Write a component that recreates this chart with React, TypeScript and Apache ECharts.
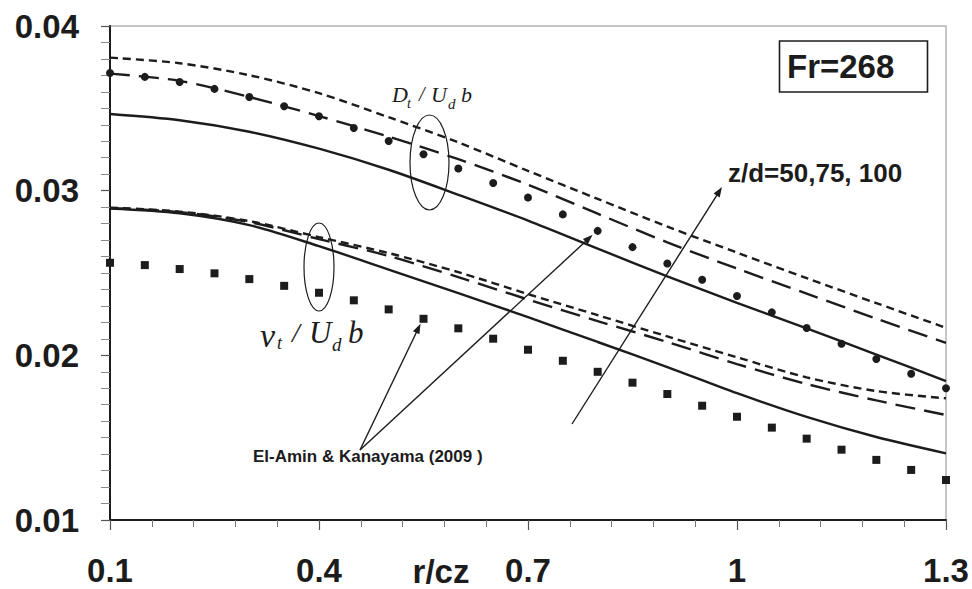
import React, { useEffect, useRef } from "react";
import * as echarts from "echarts";

// radial positions of the model curves (r/cz)
const xModel = [0.1, 0.2, 0.3, 0.4, 0.5, 0.6, 0.7, 0.8, 0.9, 1.0, 1.1, 1.2, 1.3];

// D_t / U_d b for z/d = 50, 75, 100
const dtZ50 = [0.03808, 0.03774, 0.03701, 0.03592, 0.03446, 0.03293, 0.0312, 0.0295, 0.02782, 0.02624, 0.02469, 0.02317, 0.02167];
const dtZ75 = [0.03711, 0.03667, 0.03569, 0.03453, 0.03328, 0.03191, 0.03036, 0.0286, 0.02686, 0.02527, 0.02375, 0.02223, 0.02076];
const dtZ100 = [0.03466, 0.03428, 0.03358, 0.03255, 0.03127, 0.02975, 0.02818, 0.02648, 0.0248, 0.02318, 0.02164, 0.02005, 0.01844];

// nu_t / U_d b for z/d = 50, 75, 100
const nuZ50 = [0.02897, 0.02873, 0.02815, 0.02718, 0.02621, 0.02505, 0.02372, 0.02244, 0.02115, 0.01988, 0.01866, 0.01783, 0.01739];
const nuZ75 = [0.02894, 0.0287, 0.02809, 0.02706, 0.02603, 0.02475, 0.02339, 0.02208, 0.02081, 0.01947, 0.01826, 0.01726, 0.01638];
const nuZ100 = [0.02892, 0.02863, 0.02791, 0.02663, 0.02521, 0.02378, 0.02232, 0.02081, 0.01929, 0.0177, 0.01626, 0.01504, 0.01405];

// El-Amin & Kanayama (2009) points
const xObs = [0.1, 0.15, 0.2, 0.25, 0.3, 0.35, 0.4, 0.45, 0.5, 0.55, 0.6, 0.65, 0.7, 0.75, 0.8, 0.85, 0.9, 0.95, 1.0, 1.05, 1.1, 1.15, 1.2, 1.25, 1.3];
const dtObs = [0.03715, 0.03691, 0.0366, 0.03618, 0.03569, 0.03513, 0.03452, 0.03381, 0.03302, 0.03221, 0.03135, 0.03047, 0.02959, 0.02856, 0.02756, 0.02657, 0.02558, 0.02459, 0.0236, 0.02261, 0.02166, 0.0207, 0.01978, 0.01888, 0.018];
const nuObs = [0.02562, 0.02548, 0.02524, 0.02498, 0.02463, 0.02422, 0.0238, 0.02334, 0.02279, 0.02222, 0.02164, 0.02101, 0.02034, 0.01967, 0.019, 0.01834, 0.01765, 0.01694, 0.01627, 0.01561, 0.01494, 0.01427, 0.01365, 0.01304, 0.01243];

const SANS = '"Liberation Sans", Arial, Helvetica, sans-serif';
const SERIF = '"Liberation Serif", "Times New Roman", serif';
const INK = "#1c1c1c";

const SHORT_DASH = [8, 5];
const LONG_DASH = [20, 9];

function pairs(xs: number[], ys: number[]) {
  return xs.map((x, i) => [x, ys[i]]);
}

function curve(name: string, ys: number[], dash: any) {
  return {
    name,
    type: "line",
    data: pairs(xModel, ys),
    symbol: "none",
    smooth: 0.3,
    lineStyle: { color: INK, width: 2.4, type: dash },
    z: 2,
  };
}

function arrow(x1: number, y1: number, x2: number, y2: number) {
  const dx = x2 - x1;
  const dy = y2 - y1;
  const len = Math.hypot(dx, dy);
  const ux = dx / len;
  const uy = dy / len;
  const head = 10;
  const half = 3.6;
  const bx = x2 - ux * head;
  const by = y2 - uy * head;
  return [
    {
      type: "line",
      shape: { x1, y1, x2: bx + ux * 2, y2: by + uy * 2 },
      style: { stroke: INK, lineWidth: 1.4 },
      z: 10,
    },
    {
      type: "polygon",
      shape: {
        points: [
          [x2, y2],
          [bx - uy * half, by + ux * half],
          [bx + uy * half, by - ux * half],
        ],
      },
      style: { fill: INK },
      z: 10,
    },
  ];
}

function label(text: string, x: number, y: number, font: string, align = "left") {
  return {
    type: "text",
    x,
    y,
    z: 11,
    style: {
      text,
      font,
      fill: INK,
      textAlign: align,
      align,
      textVerticalAlign: "middle",
      verticalAlign: "middle",
    },
  };
}

const fmt = (v: number) => String(parseFloat(v.toFixed(3)));

export default function App() {
  const ref = useRef<HTMLDivElement>(null);

  useEffect(() => {
    if (!ref.current) return;
    const chart = echarts.init(ref.current, undefined, { renderer: "svg" });

    chart.setOption({
      animation: false,
      backgroundColor: "#ffffff",
      grid: {
        left: 110,
        right: 26,
        top: 26,
        bottom: 69,
        show: true,
        borderColor: "#b4b4b4",
        borderWidth: 1.5,
        backgroundColor: "transparent",
      },
      xAxis: {
        type: "value",
        min: 0.1,
        max: 1.3,
        interval: 0.3,
        splitLine: { show: false },
        axisLine: { show: true, onZero: false, lineStyle: { color: INK, width: 2 } },
        axisTick: { show: true, inside: false, length: 10, lineStyle: { color: "#555", width: 1.2 } },
        minorTick: { show: true, splitNumber: 5, length: 7, lineStyle: { color: "#777", width: 1 } },
        minorSplitLine: { show: false },
        axisLabel: {
          margin: 34,
          color: INK,
          fontFamily: SANS,
          fontWeight: "bold",
          fontSize: 33,
          formatter: fmt,
        },
      },
      yAxis: {
        type: "value",
        min: 0.01,
        max: 0.04,
        interval: 0.01,
        splitLine: { show: false },
        axisLine: { show: true, onZero: false, lineStyle: { color: INK, width: 2 } },
        axisTick: { show: true, inside: false, length: 9, lineStyle: { color: "#555", width: 1.2 } },
        minorTick: { show: true, splitNumber: 10, length: 9, lineStyle: { color: "#888", width: 1 } },
        minorSplitLine: { show: false },
        axisLabel: {
          margin: 31,
          color: INK,
          fontFamily: SANS,
          fontWeight: "bold",
          fontSize: 33,
          formatter: (v: number) => v.toFixed(2),
        },
      },
      series: [
        curve("Dt z/d=50", dtZ50, SHORT_DASH),
        curve("Dt z/d=75", dtZ75, LONG_DASH),
        curve("Dt z/d=100", dtZ100, "solid"),
        curve("nut z/d=50", nuZ50, SHORT_DASH),
        curve("nut z/d=75", nuZ75, LONG_DASH),
        curve("nut z/d=100", nuZ100, "solid"),
        {
          name: "Dt El-Amin & Kanayama",
          type: "scatter",
          symbol: "circle",
          symbolSize: 8,
          data: pairs(xObs, dtObs),
          itemStyle: { color: INK, opacity: 1 },
          z: 3,
        },
        {
          name: "nut El-Amin & Kanayama",
          type: "scatter",
          symbol: "rect",
          symbolSize: 8,
          data: pairs(xObs, nuObs),
          itemStyle: { color: INK, opacity: 1 },
          z: 3,
        },
      ],
    });

    // annotation layer: arrows point at observed points, so their tips come from the scales
    const circleTip = chart.convertToPixel({ gridIndex: 0 }, [xObs[14], dtObs[14]]) as number[];
    const squareTip = chart.convertToPixel({ gridIndex: 0 }, [xObs[9], nuObs[9]]) as number[];
    const src = [360, 450];

    const graphic: any[] = [
      ...arrow(src[0], src[1], squareTip[0] - 3, squareTip[1] + 5),
      ...arrow(src[0], src[1], circleTip[0] - 5, circleTip[1] + 4),
      ...arrow(572, 424, 722, 187),
      {
        type: "ellipse",
        shape: { cx: 429.5, cy: 162.5, rx: 19.5, ry: 47.5 },
        style: { fill: "none", stroke: INK, lineWidth: 1.2 },
        z: 10,
      },
      {
        type: "ellipse",
        shape: { cx: 319, cy: 267, rx: 15, ry: 44 },
        style: { fill: "none", stroke: INK, lineWidth: 1.2 },
        z: 10,
      },
      {
        type: "rect",
        shape: { x: 779.5, y: 41, width: 148, height: 51 },
        style: { fill: "#fff", stroke: INK, lineWidth: 1.6 },
        z: 10,
      },
      label("Fr=268", 787, 66, `bold 33px ${SANS}`),
      label("z/d=50,75, 100", 728, 172.5, `bold 26px ${SANS}`),
      label("El-Amin & Kanayama (2009 )", 253, 456, `bold 17px ${SANS}`),
      label("r/cz", 441, 571, `bold 33px ${SANS}`, "center"),
      // D_t / U_d b
      label("D", 392, 94, `italic 22px ${SERIF}`),
      label("t", 407, 103, `italic 14px ${SERIF}`),
      label("/", 419, 94, `italic 20px ${SERIF}`),
      label("U", 431, 94, `italic 22px ${SERIF}`),
      label("d", 448, 104, `italic 15px ${SERIF}`),
      label("b", 461, 94, `italic 22px ${SERIF}`),
      // nu_t / U_d b
      label("\u03bd", 260, 335, `italic 34px ${SERIF}`),
      label("t", 277, 343, `italic 18px ${SERIF}`),
      label("/", 292, 332, `italic 28px ${SERIF}`),
      label("U", 309, 332, `italic 31px ${SERIF}`),
      label("d", 332, 344, `italic 19px ${SERIF}`),
      label("b", 348, 332, `italic 31px ${SERIF}`),
    ];

    chart.setOption({ graphic });

    return () => {
      chart.dispose();
    };
  }, []);

  return (
    <div
      ref={ref}
      style={{ position: "absolute", left: 0, top: 0, width: 972, height: 589, background: "#fff" }}
    />
  );
}
